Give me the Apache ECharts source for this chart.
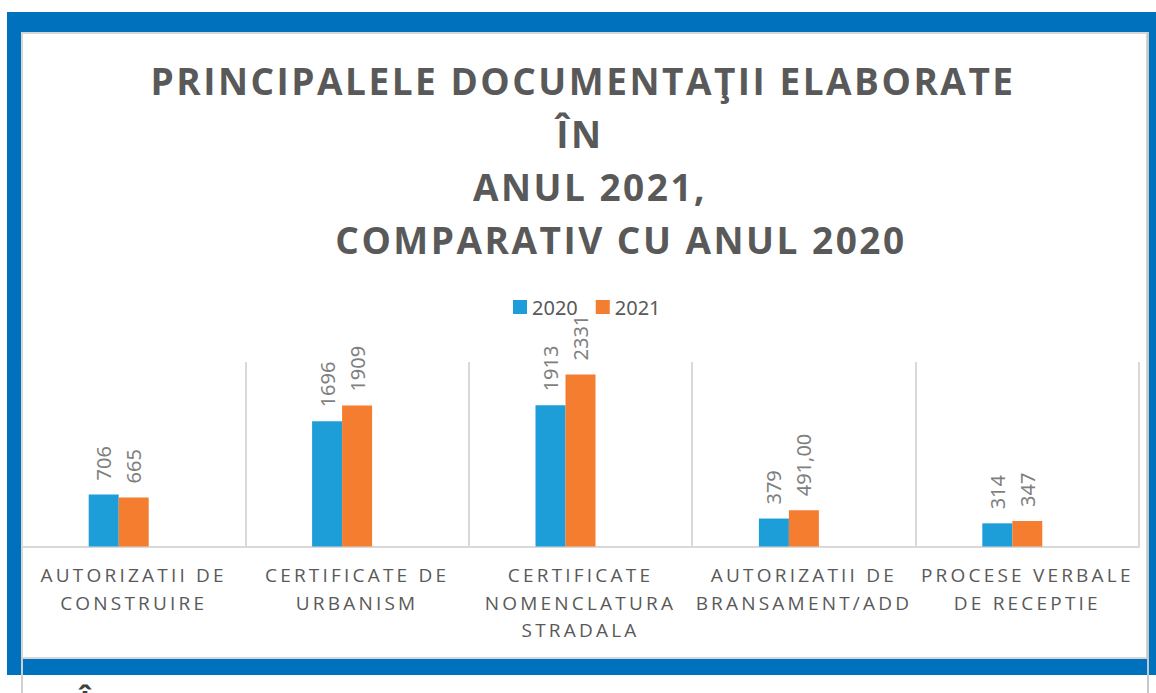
<!DOCTYPE html>
<html>
<head>
    <meta charset="UTF-8">
    <title>Documentatii 2021</title>
    <script src="https://cdn.jsdelivr.net/npm/echarts@6/dist/echarts.min.js"></script>
    <style>
        html, body { margin: 0; padding: 0; background: #fff; }
        #chart { width: 1156px; height: 693px; }
        /* spatiere intre litere, ca in original (titlu 37px, etichete axa 19px) */
        #chart text[style*="37px"] { letter-spacing: 2.5px; }
        #chart text[style*="19px"] { letter-spacing: 3.2px; }
    </style>
</head>
<body>
<div id="chart"></div>
<script>
    var titleLines = ['PRINCIPALELE DOCUMENTAŢII ELABORATE', 'ÎN', 'ANUL 2021,', 'COMPARATIV CU ANUL 2020'];
    var categories = [
        'AUTORIZATII DE\nCONSTRUIRE',
        'CERTIFICATE DE\nURBANISM',
        'CERTIFICATE\nNOMENCLATURA\nSTRADALA',
        'AUTORIZATII DE\nBRANSAMENT/ADD',
        'PROCESE VERBALE\nDE RECEPTIE'
    ];
    var seriesNames = ['2020', '2021'];
    var values2020 = [706, 1696, 1913, 379, 314];
    var values2021 = [665, 1909, 2331, 491, 347];
    var labels2020 = ['706', '1696', '1913', '379', '314'];
    var labels2021 = ['665', '1909', '2331', '491,00', '347'];

    var chart = echarts.init(document.getElementById('chart'), null, {renderer: 'svg'});

    // pozitiile randurilor din titlu (centru x, centru y)
    var titleX = [583, 580, 590, 621];
    var titleY = [80, 133, 186, 239];

    var valueLabel = function (texts) {
        return {
            show: true,
            position: 'top',
            rotate: 90,
            align: 'left',
            verticalAlign: 'middle',
            distance: 14,
            color: '#7f7f7f',
            fontSize: 20,
            fontFamily: 'Noto Sans',
            formatter: function (p) { return texts[p.dataIndex]; }
        };
    };

    var option = {
        backgroundColor: '#fff',
        animation: false,
        title: titleLines.map(function (t, i) {
            return {
                text: t,
                left: titleX[i],
                top: titleY[i],
                padding: 0,
                textAlign: 'center',
                textVerticalAlign: 'middle',
                textStyle: {
                    color: '#595959',
                    fontSize: 37,
                    fontWeight: 'bold',
                    fontFamily: 'Open Sans'
                }
            };
        }),
        legend: {
            data: seriesNames,
            left: 513,
            top: 297,
            padding: 0,
            itemWidth: 14,
            itemHeight: 14,
            itemGap: 18,
            icon: 'rect',
            textStyle: {color: '#595959', fontSize: 20, fontFamily: 'Noto Sans'}
        },
        grid: {
            left: 22,
            right: 17,
            top: 362,
            bottom: 146.5,
            outerBoundsMode: 'none'
        },
        xAxis: {
            type: 'category',
            data: categories,
            axisTick: {show: false},
            axisLine: {lineStyle: {color: '#d9d9d9', width: 2}},
            splitLine: {show: true, interval: 0, lineStyle: {color: '#d9d9d9', width: 2}},
            axisLabel: {
                interval: 0,
                margin: 15,
                color: '#595959',
                fontSize: 19,
                lineHeight: 27.5,
                fontFamily: 'Open Sans'
            }
        },
        yAxis: {
            type: 'value',
            min: 0,
            max: 2500,
            show: false,
            splitLine: {show: false}
        },
        series: [
            {
                name: '2020',
                type: 'bar',
                data: values2020,
                barWidth: 30,
                barGap: '0%',
                itemStyle: {color: '#1d9ed9'},
                label: valueLabel(labels2020)
            },
            {
                name: '2021',
                type: 'bar',
                data: values2021,
                barWidth: 30,
                barGap: '0%',
                itemStyle: {color: '#f47d30'},
                label: valueLabel(labels2021)
            },
            {
                // a treia serie, goala (ocupa loc langa bare, ca in original)
                name: '',
                type: 'bar',
                data: [],
                barWidth: 30,
                barGap: '0%'
            }
        ],
        graphic: [
            // rama albastra
            {type: 'rect', z: -10, silent: true, shape: {x: 7, y: 12, width: 1149, height: 663}, style: {fill: '#0071bd'}},
            {type: 'rect', z: -9, silent: true, shape: {x: 22, y: 33, width: 1125, height: 625}, style: {fill: '#fff', stroke: '#d6d6d6', lineWidth: 2}},
            {type: 'line', z: -8, silent: true, shape: {x1: 22, y1: 658, x2: 22, y2: 693}, style: {stroke: '#d0d0d0', lineWidth: 2}},
            {type: 'line', z: -8, silent: true, shape: {x1: 1148, y1: 32, x2: 1148, y2: 693}, style: {stroke: '#c8c8c8', lineWidth: 2}},
            {type: 'text', z: -8, silent: true, x: 85, y: 686, style: {text: 'Î', fill: '#404040', font: 'bold 30px "Open Sans"', textAlign: 'center', textVerticalAlign: 'top'}}
        ]
    };

    chart.setOption(option);
</script>
</body>
</html>
